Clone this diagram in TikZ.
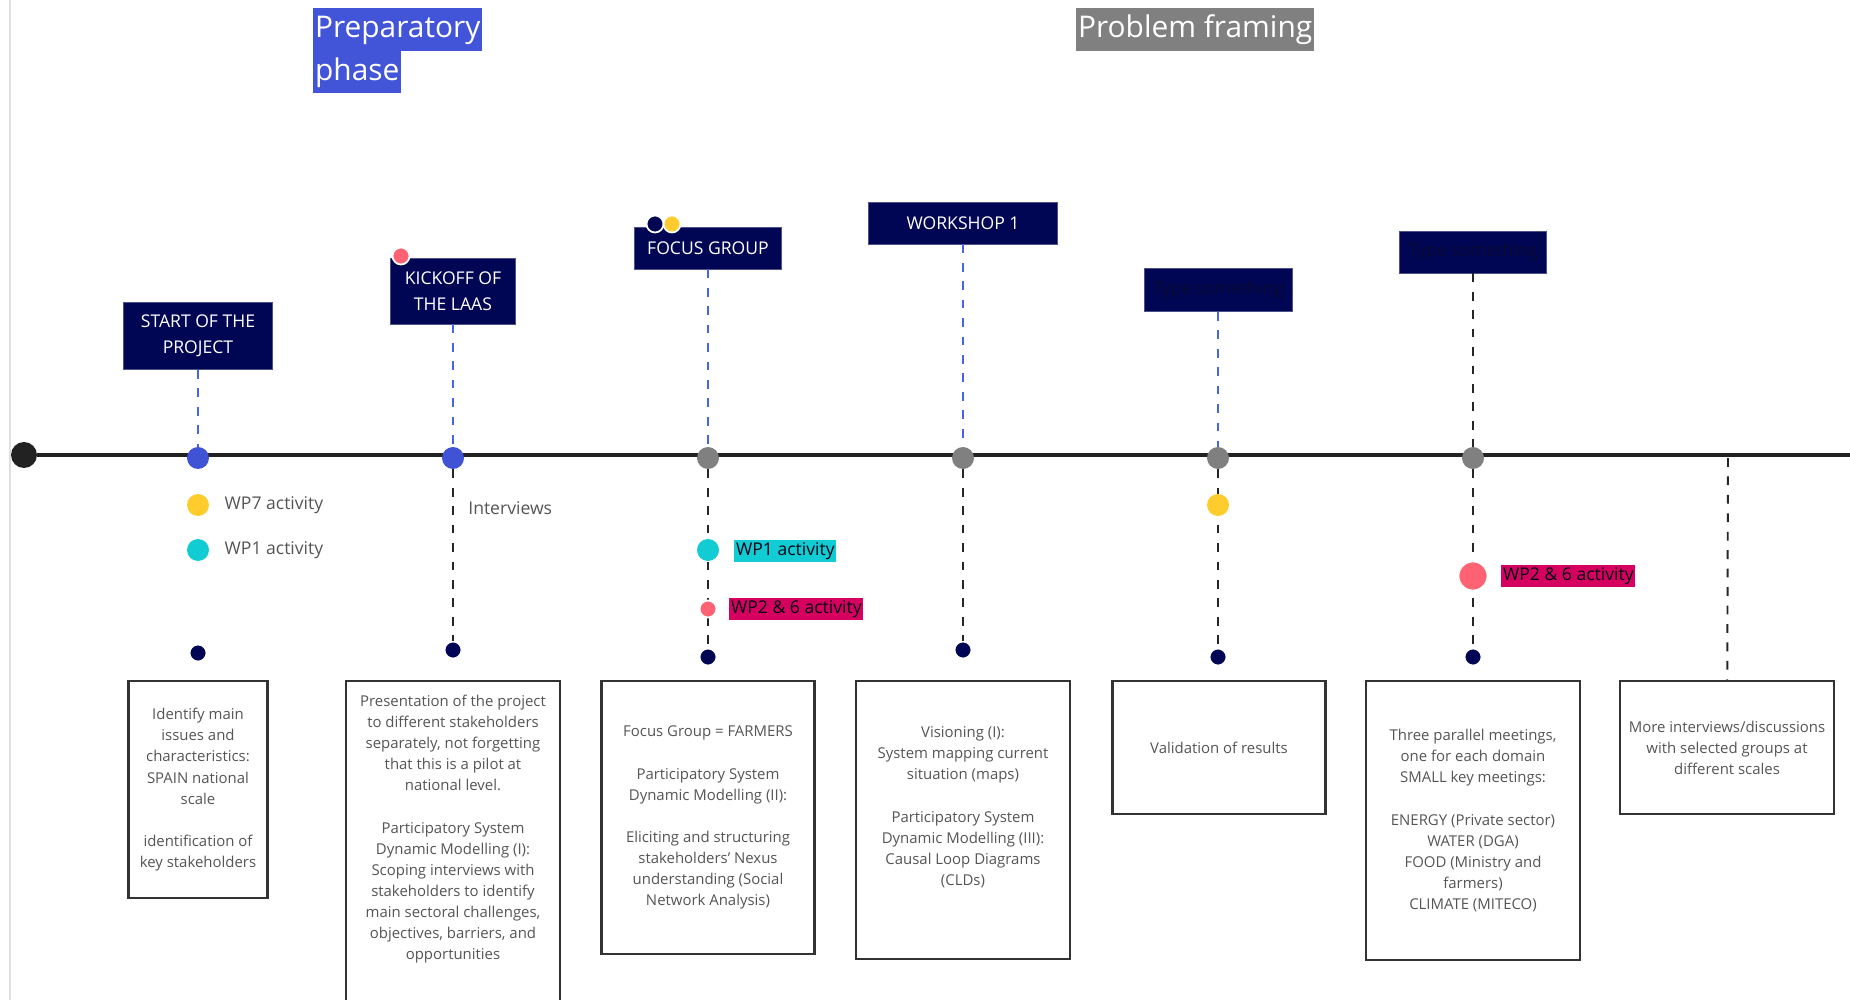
\documentclass[tikz,border=0pt]{standalone}
\usepackage{fontspec}
\setmainfont{Open Sans}
\usetikzlibrary{positioning}
\definecolor{navybox}{RGB}{0,6,84}
\definecolor{hdghost}{RGB}{10,10,50}
\definecolor{evblue}{RGB}{64,82,214}
\definecolor{dashblue}{RGB}{70,100,230}
\definecolor{titleblue}{RGB}{66,84,216}
\definecolor{titlegrey}{RGB}{128,128,128}
\definecolor{evgrey}{RGB}{128,128,128}
\definecolor{tlblack}{RGB}{34,34,34}
\definecolor{wpyellow}{RGB}{255,204,46}
\definecolor{wpcyan}{RGB}{18,204,212}
\definecolor{wpcoral}{RGB}{255,99,115}
\definecolor{wpmagenta}{RGB}{214,0,96}
\definecolor{notegrey}{RGB}{85,85,85}
\tikzset{
  phasetitle/.style={text=white,font=\fontsize{17}{20}\selectfont,inner xsep=1pt,inner ysep=3.5pt,text height=13pt,text depth=4pt},
  hdbox/.style={fill=navybox,draw=navybox!70!white,line width=0.4pt,text=white,font=\fontsize{10}{14.8}\selectfont,align=center,inner sep=0pt},
  notebox/.style={draw=black!80,line width=1.3pt,fill=white,text=notegrey,font=\fontsize{8.5}{12}\selectfont,align=center,anchor=north,inner ysep=5pt},
  evdot/.style={circle,inner sep=0pt,minimum size=0.44cm},
  smalldot/.style={circle,draw=white,line width=1pt,inner sep=0pt,minimum size=0.34cm},
  bigdot/.style={circle,draw=white,line width=1pt,inner sep=0pt,minimum size=0.58cm},
  pindot/.style={circle,fill=navybox,draw=white,line width=1pt,inner sep=0pt,minimum size=0.34cm},
  legtext/.style={text=notegrey,font=\fontsize{10}{12}\selectfont,inner sep=0pt},
  tagbox/.style={text=black!75!navybox,font=\fontsize{10}{12}\selectfont,inner xsep=1pt,inner ysep=1.5pt,text height=7.5pt,text depth=2.5pt},
  timeline/.style={draw=tlblack,line width=2.8pt},
  bluedash/.style={draw=dashblue,dash pattern=on 5pt off 5.5pt,line width=1.1pt},
  blackdash/.style={draw=black!85,dash pattern=on 5pt off 5.5pt,line width=1.1pt}
}

\begin{document}
\begin{tikzpicture}[x=0.02cm,y=-0.02cm]
  \useasboundingbox (0,0) rectangle (1850,1000);
  \clip (0,0) rectangle (1850,1000);
  \fill[white] (0,0) rectangle (1850,1000);
  \draw[black!12,line width=1pt] (10,0) -- (10,1000);

  % phase titles
  \node[phasetitle,fill=titleblue,anchor=north west] (prep) at (313,8) {Preparatory};
  \node[phasetitle,fill=titleblue,anchor=north west] (phase) at (prep.south west) {phase};
  \node[phasetitle,fill=titlegrey,anchor=north west] (frame) at (1076,8) {Problem framing};

  % timeline
  \node[circle,fill=tlblack,inner sep=0pt,minimum size=0.52cm] (start) at (24,455) {};
  \coordinate (tlend) at (1850,455);
  \draw[timeline] (start) -- (tlend);
  \node[evdot,fill=evblue] (ev1) at (198,458) {};
  \node[evdot,fill=evblue] (ev2) at (453,458) {};
  \node[evdot,fill=evgrey] (ev3) at (708,458) {};
  \node[evdot,fill=evgrey] (ev4) at (963,458) {};
  \node[evdot,fill=evgrey] (ev5) at (1218,458) {};
  \node[evdot,fill=evgrey] (ev6) at (1473,458) {};
  \coordinate (tick7) at (1728,458);

  % milestone headers
  \node[hdbox,minimum width=2.98cm,minimum height=1.34cm] (hd1) at (198,336) {START OF THE\\PROJECT};
  \node[hdbox,minimum width=2.5cm,minimum height=1.32cm] (hd2) at (453,291) {KICKOFF OF\\THE LAAS};
  \node[hdbox,minimum width=2.94cm,minimum height=0.84cm] (hd3) at (708,248) {FOCUS GROUP};
  \node[hdbox,minimum width=3.78cm,minimum height=0.84cm] (hd4) at (963,223) {WORKSHOP 1};
  \node[hdbox,text=hdghost,minimum width=2.96cm,minimum height=0.86cm] (hd5) at (1218,290) {Type something};
  \node[hdbox,text=hdghost,minimum width=2.94cm,minimum height=0.84cm] (hd6) at (1473,252) {Type something};

  \draw[bluedash] (hd1) -- (ev1);
  \draw[bluedash] (hd2) -- (ev2);
  \draw[bluedash] (hd3) -- (ev3);
  \draw[bluedash] (hd4) -- (ev4);
  \draw[bluedash] (hd5) -- (ev5);
  \draw[blackdash] (hd6) -- (ev6);

  % pins under the line
  \node[pindot] (pin1) at (198,653) {};
  \node[pindot] (pin2) at (453,650) {};
  \node[pindot] (pin3) at (708,657) {};
  \node[pindot] (pin4) at (963,650) {};
  \node[pindot] (pin5) at (1218,657) {};
  \node[pindot] (pin6) at (1473,657) {};
  \draw[blackdash] (ev2) -- (pin2);
  \draw[blackdash] (ev3) -- (pin3);
  \draw[blackdash] (ev4) -- (pin4);
  \draw[blackdash] (ev5) -- (pin5);
  \draw[blackdash] (ev6) -- (pin6);

  % description boxes
  \node[notebox,minimum width=2.78cm,minimum height=4.34cm] (txt1) at (198,680) {Identify main\\issues and\\characteristics:\\SPAIN national\\scale\\[12pt]identification of\\key stakeholders};
  \node[notebox,minimum width=4.28cm,inner ysep=8pt,text depth=3cm] (txt2) at (453,680) {Presentation of the project\\to different stakeholders\\separately, not forgetting\\that this is a pilot at\\national level.\\[12pt]Participatory System\\Dynamic Modelling (I):\\Scoping interviews with\\stakeholders to identify\\main sectoral challenges,\\objectives, barriers, and\\opportunities};
  \node[notebox,minimum width=4.26cm,minimum height=5.46cm] (txt3) at (708,680) {Focus Group = FARMERS\\[12pt]Participatory System\\Dynamic Modelling (II):\\[12pt]Eliciting and structuring\\stakeholders' Nexus\\understanding (Social\\Network Analysis)};
  \node[notebox,minimum width=4.28cm,minimum height=5.56cm,text depth=16pt] (txt4) at (963,680) {Visioning (I):\\System mapping current\\situation (maps)\\[12pt]Participatory System\\Dynamic Modelling (III):\\Causal Loop Diagrams\\(CLDs)};
  \node[notebox,minimum width=4.26cm,minimum height=2.66cm] (txt5) at (1219,680) {Validation of results};
  \node[notebox,minimum width=4.28cm,minimum height=5.58cm] (txt6) at (1473,680) {Three parallel meetings,\\one for each domain\\SMALL key meetings:\\[12pt]ENERGY (Private sector)\\WATER (DGA)\\FOOD (Ministry and\\farmers)\\CLIMATE (MITECO)};
  \node[notebox,minimum width=4.28cm,minimum height=2.66cm] (txt7) at (1727,680) {More interviews/discussions\\with selected groups at\\different scales};
  \draw[blackdash] (tick7) -- (txt7);

  % legend and activities
  \node[evdot,fill=wpyellow] (legY) at (198,505) {};
  \node[legtext,right=0.3cm of legY] (legYtxt) {WP7 activity};
  \node[evdot,fill=wpcyan] (legC) at (198,550) {};
  \node[legtext,right=0.3cm of legC] (legCtxt) {WP1 activity};
  \node[legtext,anchor=west] (intv) at (468,508) {Interviews};

  \node[evdot,fill=wpcyan] (fgC) at (708,550) {};
  \node[tagbox,fill=wpcyan,anchor=west] (fgCtag) at (734,551) {WP1 activity};
  \node[smalldot,fill=wpcoral] (fgP) at (708,609) {};
  \node[tagbox,fill=wpmagenta,anchor=west] (fgPtag) at (729,609) {WP2 \& 6 activity};
  \node[evdot,fill=wpyellow] (valY) at (1218,505) {};
  \node[bigdot,fill=wpcoral] (smP) at (1473,576) {};
  \node[tagbox,fill=wpmagenta,anchor=west] (smPtag) at (1501,576) {WP2 \& 6 activity};

  \node[smalldot,fill=wpcoral] (koP) at (401,256) {};
  \node[smalldot,fill=navybox] (fgN) at (655,224) {};
  \node[smalldot,fill=wpyellow] (fgY) at (672,224) {};
\end{tikzpicture}
\end{document}
